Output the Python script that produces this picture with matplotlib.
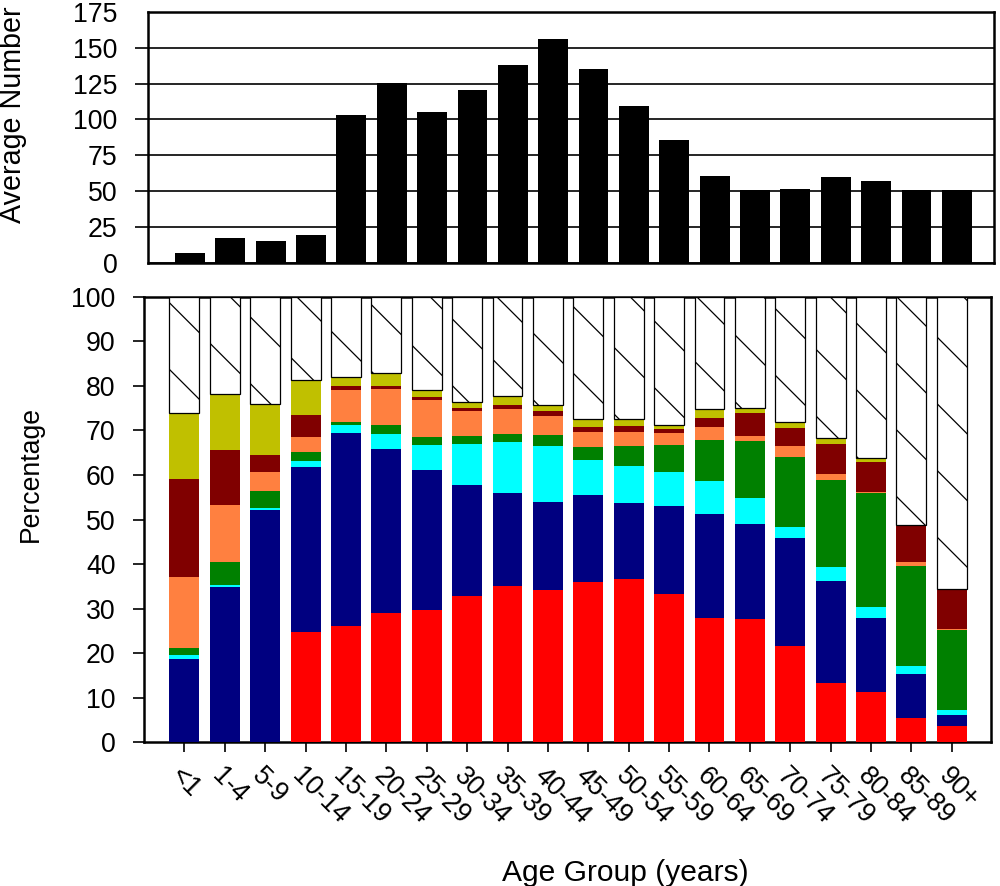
import matplotlib
matplotlib.use("Agg")
import matplotlib.pyplot as plt
import numpy as np

plt.rcParams['font.family'] = ['Liberation Sans', 'DejaVu Sans']
plt.rcParams['hatch.linewidth'] = 0.45

age_groups = ['<1', '1-4', '5-9', '10-14', '15-19', '20-24', '25-29', '30-34',
              '35-39', '40-44', '45-49', '50-54', '55-59', '60-64', '65-69',
              '70-74', '75-79', '80-84', '85-89', '90+']

average_number = [6.5, 17.2, 14.8, 19.0, 103.2, 125.4, 105.2, 120.5, 137.9, 156.0,
                  135.1, 109.4, 85.8, 60.7, 50.8, 51.7, 60.0, 57.3, 50.8, 50.8]

# Percentage composition of each age group, stacked bottom to top
red_pct = [0.0, 0.0, 0.0, 24.7, 26.1, 29.0, 29.6, 32.8, 35.1, 34.2,
           36.0, 36.6, 33.3, 28.0, 27.6, 21.7, 13.3, 11.2, 5.4, 3.7]
navy_pct = [18.6, 34.8, 52.1, 37.1, 43.4, 36.9, 31.4, 24.9, 20.8, 19.8,
            19.4, 17.1, 19.7, 23.3, 21.5, 24.1, 23.0, 16.7, 10.0, 2.4]
cyan_pct = [1.1, 0.4, 0.4, 1.3, 1.7, 3.4, 5.8, 9.3, 11.5, 12.5,
            7.9, 8.3, 7.6, 7.4, 5.8, 2.5, 3.0, 2.4, 1.7, 1.2]
green_pct = [1.5, 5.2, 3.8, 2.0, 0.6, 1.9, 1.7, 1.7, 1.9, 2.4,
             3.0, 4.6, 6.2, 9.1, 12.7, 15.7, 19.5, 25.7, 22.5, 18.0]
orange_pct = [15.9, 12.8, 4.4, 3.4, 7.3, 8.1, 8.4, 5.7, 5.4, 4.4,
              3.4, 3.1, 2.6, 3.0, 1.1, 2.5, 1.4, 0.2, 0.8, 0.1]
maroon_pct = [22.1, 12.3, 3.8, 4.9, 0.8, 0.6, 0.5, 0.6, 1.0, 1.0,
              1.1, 1.2, 0.9, 2.0, 5.1, 4.1, 6.8, 6.7, 8.1, 8.9]
olive_pct = [14.6, 12.7, 11.4, 7.8, 2.0, 3.0, 1.6, 1.3, 2.1, 1.4,
             1.7, 1.7, 0.9, 2.1, 1.3, 1.2, 1.3, 1.0, 0.2, 0.0]

layers = [
    (red_pct, '#FF0000'),
    (navy_pct, '#000080'),
    (cyan_pct, '#00FFFF'),
    (green_pct, '#008000'),
    (orange_pct, '#FF8040'),
    (maroon_pct, '#800000'),
    (olive_pct, '#C0C000'),
]

x = np.arange(len(age_groups))
bar_w = 0.74
spine_lw = 0.9
tick_fs = 9.6

fig = plt.figure(figsize=(5.0, 4.43), dpi=200)

# Upper panel: average number per age group
ax_top = fig.add_axes([0.1483, 0.7035, 0.8457, 0.2830])
ax_top.bar(x, average_number, width=bar_w, color='black', zorder=3)
ax_top.set_xlim(-1.03, 19.92)
ax_top.set_ylim(0, 175)
ax_top.set_yticks(np.arange(0, 176, 25))
ax_top.yaxis.grid(True, color='black', linewidth=0.6, zorder=0)
ax_top.set_xticks([])
ax_top.tick_params(axis='y', direction='out', length=4.7, width=0.6,
                   labelsize=tick_fs, pad=6.3, color='black')
for t in (ax_top.yaxis.get_major_ticks()[0], ax_top.yaxis.get_major_ticks()[-1]):
    t.tick1line.set_visible(False)
for s in ax_top.spines.values():
    s.set_linewidth(spine_lw)

# Lower panel: stacked percentage composition
ax_bot = fig.add_axes([0.144, 0.1622, 0.847, 0.5029])
bottom = np.zeros(len(age_groups))
for values, color in layers:
    vals = np.array(values)
    ax_bot.bar(x, vals, width=bar_w, bottom=bottom, color=color,
               linewidth=0, zorder=3)
    bottom += vals
remainder = 100.0 - bottom
ax_bot.bar(x, remainder, width=bar_w, bottom=bottom, facecolor='white',
           edgecolor='black', linewidth=0.45, hatch='\\', zorder=3)
ax_bot.set_xlim(-1.0, 19.97)
ax_bot.set_ylim(0, 100)
ax_bot.set_yticks(np.arange(0, 101, 10))
ax_bot.set_xticks(x)
ax_bot.set_xticklabels(age_groups, rotation=-45, ha='left', va='top',
                       rotation_mode='anchor', fontsize=tick_fs)
ax_bot.tick_params(axis='y', direction='out', length=4.0, width=0.6,
                   labelsize=tick_fs, pad=6.3)
ax_bot.tick_params(axis='x', direction='out', length=3.5, width=0.6, pad=4)
for s in ax_bot.spines.values():
    s.set_linewidth(spine_lw)

# Axis titles
fig.text(0.013, 1 - 115 / 886, 'Average Number', rotation=90,
         ha='center', va='center', fontsize=10.3)
fig.text(0.031, 1 - 474 / 886, 'Percentage', rotation=90,
         ha='center', va='center', fontsize=9.6)
fig.text(0.625, 1 - 873 / 886, 'Age Group (years)',
         ha='center', va='center', fontsize=10.8)

fig.savefig('out.png', dpi=200)
